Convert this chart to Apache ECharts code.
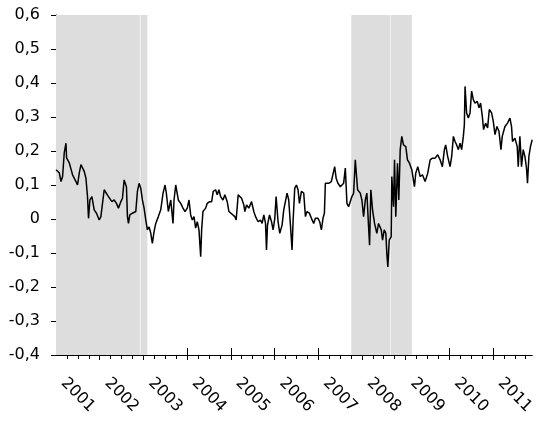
<!DOCTYPE html>
<html>
<head>
<meta charset="utf-8">
<script src="https://cdn.jsdelivr.net/npm/echarts@6/dist/echarts.min.js"></script>
<style>html,body{margin:0;padding:0;background:#fff}#c{width:537px;height:421px}</style>
</head>
<body>
<div id="c"></div>
<script>
// decimal-year dates of the series
var dates = [2001.000,2001.075,2001.114,2001.151,2001.189,2001.228,2001.242,2001.304,2001.379,2001.457,2001.493,2001.532,2001.571,2001.607,2001.646,2001.685,2001.721,2001.744,2001.776,2001.822,2001.874,2001.927,2001.989,2002.027,2002.064,2002.103,2002.142,2002.178,2002.217,2002.279,2002.331,2002.384,2002.429,2002.484,2002.521,2002.559,2002.582,2002.612,2002.635,2002.658,2002.689,2002.749,2002.826,2002.863,2002.902,2002.941,2002.977,2003.016,2003.055,2003.091,2003.130,2003.169,2003.205,2003.244,2003.283,2003.342,2003.397,2003.450,2003.495,2003.525,2003.571,2003.626,2003.662,2003.678,2003.701,2003.740,2003.776,2003.799,2003.854,2003.906,2003.952,2004.005,2004.043,2004.082,2004.119,2004.158,2004.196,2004.233,2004.272,2004.311,2004.333,2004.363,2004.425,2004.461,2004.516,2004.562,2004.598,2004.653,2004.689,2004.728,2004.767,2004.820,2004.865,2004.918,2004.957,2004.995,2005.048,2005.094,2005.123,2005.169,2005.201,2005.247,2005.299,2005.322,2005.361,2005.413,2005.475,2005.527,2005.566,2005.626,2005.680,2005.717,2005.756,2005.795,2005.817,2005.840,2005.886,2005.932,2005.968,2006.007,2006.037,2006.082,2006.121,2006.174,2006.212,2006.251,2006.288,2006.326,2006.365,2006.402,2006.425,2006.463,2006.502,2006.539,2006.571,2006.616,2006.669,2006.708,2006.744,2006.799,2006.845,2006.897,2006.936,2006.995,2007.034,2007.073,2007.110,2007.142,2007.164,2007.201,2007.240,2007.301,2007.377,2007.411,2007.452,2007.507,2007.582,2007.621,2007.658,2007.696,2007.735,2007.772,2007.811,2007.849,2007.872,2007.902,2007.963,2008.000,2008.039,2008.078,2008.114,2008.153,2008.176,2008.205,2008.244,2008.290,2008.342,2008.381,2008.443,2008.473,2008.511,2008.548,2008.571,2008.594,2008.626,2008.671,2008.685,2008.724,2008.747,2008.776,2008.815,2008.845,2008.877,2008.913,2008.952,2009.005,2009.043,2009.089,2009.142,2009.203,2009.233,2009.279,2009.333,2009.386,2009.447,2009.507,2009.562,2009.614,2009.676,2009.735,2009.790,2009.842,2009.888,2009.918,2009.963,2010.018,2010.055,2010.094,2010.132,2010.169,2010.208,2010.247,2010.283,2010.322,2010.345,2010.361,2010.397,2010.436,2010.475,2010.511,2010.550,2010.589,2010.641,2010.680,2010.717,2010.756,2010.785,2010.831,2010.877,2010.916,2010.968,2011.007,2011.046,2011.091,2011.137,2011.183,2011.212,2011.274,2011.333,2011.388,2011.425,2011.447,2011.502,2011.555,2011.578,2011.616,2011.653,2011.692,2011.731,2011.767,2011.790,2011.822,2011.858,2011.897];
var values = [0.145,0.136,0.110,0.125,0.195,0.223,0.180,0.165,0.130,0.110,0.100,0.135,0.160,0.155,0.140,0.120,0.066,0.002,0.056,0.066,0.027,0.017,-0.003,0.007,0.046,0.086,0.090,0.070,0.066,0.051,0.056,0.046,0.032,0.051,0.061,0.115,0.120,0.095,0.007,-0.013,0.012,0.017,0.022,0.081,0.105,0.090,0.056,0.032,-0.003,-0.032,-0.023,-0.042,-0.072,-0.037,-0.013,0.007,0.027,0.076,0.100,0.076,0.022,0.056,0.061,-0.013,0.056,0.100,0.095,0.056,0.046,0.032,0.022,0.032,0.056,0.012,-0.003,0.007,-0.027,-0.008,-0.032,-0.111,-0.032,0.022,0.032,0.046,0.051,0.051,0.081,0.086,0.071,0.086,0.066,0.056,0.071,0.051,0.022,0.027,0.012,0.007,-0.003,0.071,0.076,0.061,0.041,0.022,0.041,0.032,0.051,0.022,0.007,-0.008,-0.003,-0.013,0.012,-0.013,-0.091,-0.018,0.012,-0.008,-0.032,0.002,0.066,-0.008,-0.042,-0.018,0.027,0.022,0.076,0.056,-0.018,-0.091,-0.008,0.090,0.100,0.086,0.046,0.081,0.076,0.007,0.022,0.017,0.002,-0.013,0.002,0.002,-0.008,-0.032,0.002,0.017,0.105,0.110,0.105,0.110,0.154,0.120,0.105,0.095,0.105,0.150,0.046,0.036,0.041,0.066,0.076,0.174,0.179,0.086,0.076,0.056,0.007,0.056,0.076,-0.023,-0.077,0.086,0.027,-0.013,-0.042,-0.013,-0.032,-0.062,-0.032,-0.042,-0.101,-0.141,-0.062,-0.052,0.125,0.036,0.174,0.007,0.164,0.056,0.204,0.243,0.218,0.213,0.174,0.164,0.145,0.095,0.135,0.154,0.125,0.130,0.110,0.135,0.174,0.179,0.179,0.189,0.174,0.154,0.204,0.218,0.184,0.154,0.184,0.243,0.228,0.218,0.204,0.223,0.204,0.243,0.277,0.390,0.312,0.297,0.312,0.376,0.351,0.341,0.346,0.327,0.341,0.302,0.263,0.282,0.268,0.322,0.312,0.287,0.248,0.272,0.258,0.204,0.243,0.272,0.282,0.297,0.272,0.228,0.238,0.213,0.154,0.243,0.154,0.204,0.184,0.150,0.105,0.184,0.213,0.233];
// shaded periods and the light dividers inside them
var shadedPeriods = [[2001.0, 2002.918], [2002.918, 2003.091], [2007.758, 2008.648], [2008.648, 2009.142]];
var dividers = [2002.918, 2008.648];
// axis labels
var yearLabels = [2001, 2002, 2003, 2004, 2005, 2006, 2007, 2008, 2009, 2010, 2011];
var xMin = 2001, xMax = 2011.9;

var majorTicks = yearLabels.slice(1);
var quarterTicks = [];
for (var y = 2001; y < 2012; y++) { for (var q = 1; q < 4; q++) { var v = y + q / 4; if (v < xMax) quarterTicks.push(v); } }
var allTicks = quarterTicks.concat(majorTicks);
var labelPos = yearLabels.map(function (y) { return y + 0.5; });

var font = 'DejaVu Sans';
var chart = echarts.init(document.getElementById('c'), null, { renderer: 'canvas' });
var baseX = {
  type: 'value', min: xMin, max: xMax, position: 'bottom',
  splitLine: { show: false }, axisLine: { show: false, onZero: false }, axisLabel: { show: false }, axisTick: { show: false }
};
chart.setOption({
  animation: false,
  grid: { left: 56, right: 3, top: 15, bottom: 66 },
  xAxis: [
    Object.assign({}, baseX, {
      axisLine: { show: true, onZero: false, lineStyle: { color: '#000', width: 1 } },
      axisTick: { show: true, customValues: allTicks, length: 4, lineStyle: { color: '#000' } },
      axisLabel: {
        show: true, customValues: labelPos, rotate: -45, align: 'center', verticalAlign: 'middle',
        margin: 40, color: '#000', fontFamily: font, fontSize: 16,
        formatter: function (v) { return String(Math.floor(v + 1e-6)); }
      }
    }),
    Object.assign({}, baseX, {
      axisTick: { show: true, customValues: majorTicks, length: 5, lineStyle: { color: '#000' } }
    }),
    Object.assign({}, baseX, {
      axisTick: { show: true, inside: true, customValues: majorTicks, length: 7, lineStyle: { color: '#000' } }
    })
  ],
  yAxis: {
    type: 'value', min: -0.4, max: 0.6, interval: 0.1,
    splitLine: { show: false },
    axisLine: { show: true, onZero: false, lineStyle: { color: '#000', width: 1 } },
    axisTick: { show: true, length: 5, lineStyle: { color: '#000' } },
    axisLabel: {
      margin: 16, color: '#000', fontFamily: font, fontSize: 16,
      formatter: function (v) { return Math.abs(v) < 1e-9 ? '0' : v.toFixed(1).replace('.', ','); }
    }
  },
  series: [
    {
      type: 'line', data: [], xAxisIndex: 0, silent: true, z: 1,
      markArea: {
        silent: true,
        itemStyle: { color: '#dddddd' },
        data: shadedPeriods.map(function (p) { return [{ xAxis: p[0] }, { xAxis: p[1] }]; })
      },
      markLine: {
        silent: true, symbol: 'none', label: { show: false },
        lineStyle: { color: '#efefef', width: 1, type: 'solid' },
        data: dividers.map(function (d) { return { xAxis: d }; })
      }
    },
    {
      type: 'line', xAxisIndex: 0, z: 5, showSymbol: false, symbol: 'none',
      lineStyle: { color: '#000', width: 1.5 },
      data: dates.map(function (d, i) { return [d, values[i]]; })
    }
  ]
});
</script>
</body>
</html>
